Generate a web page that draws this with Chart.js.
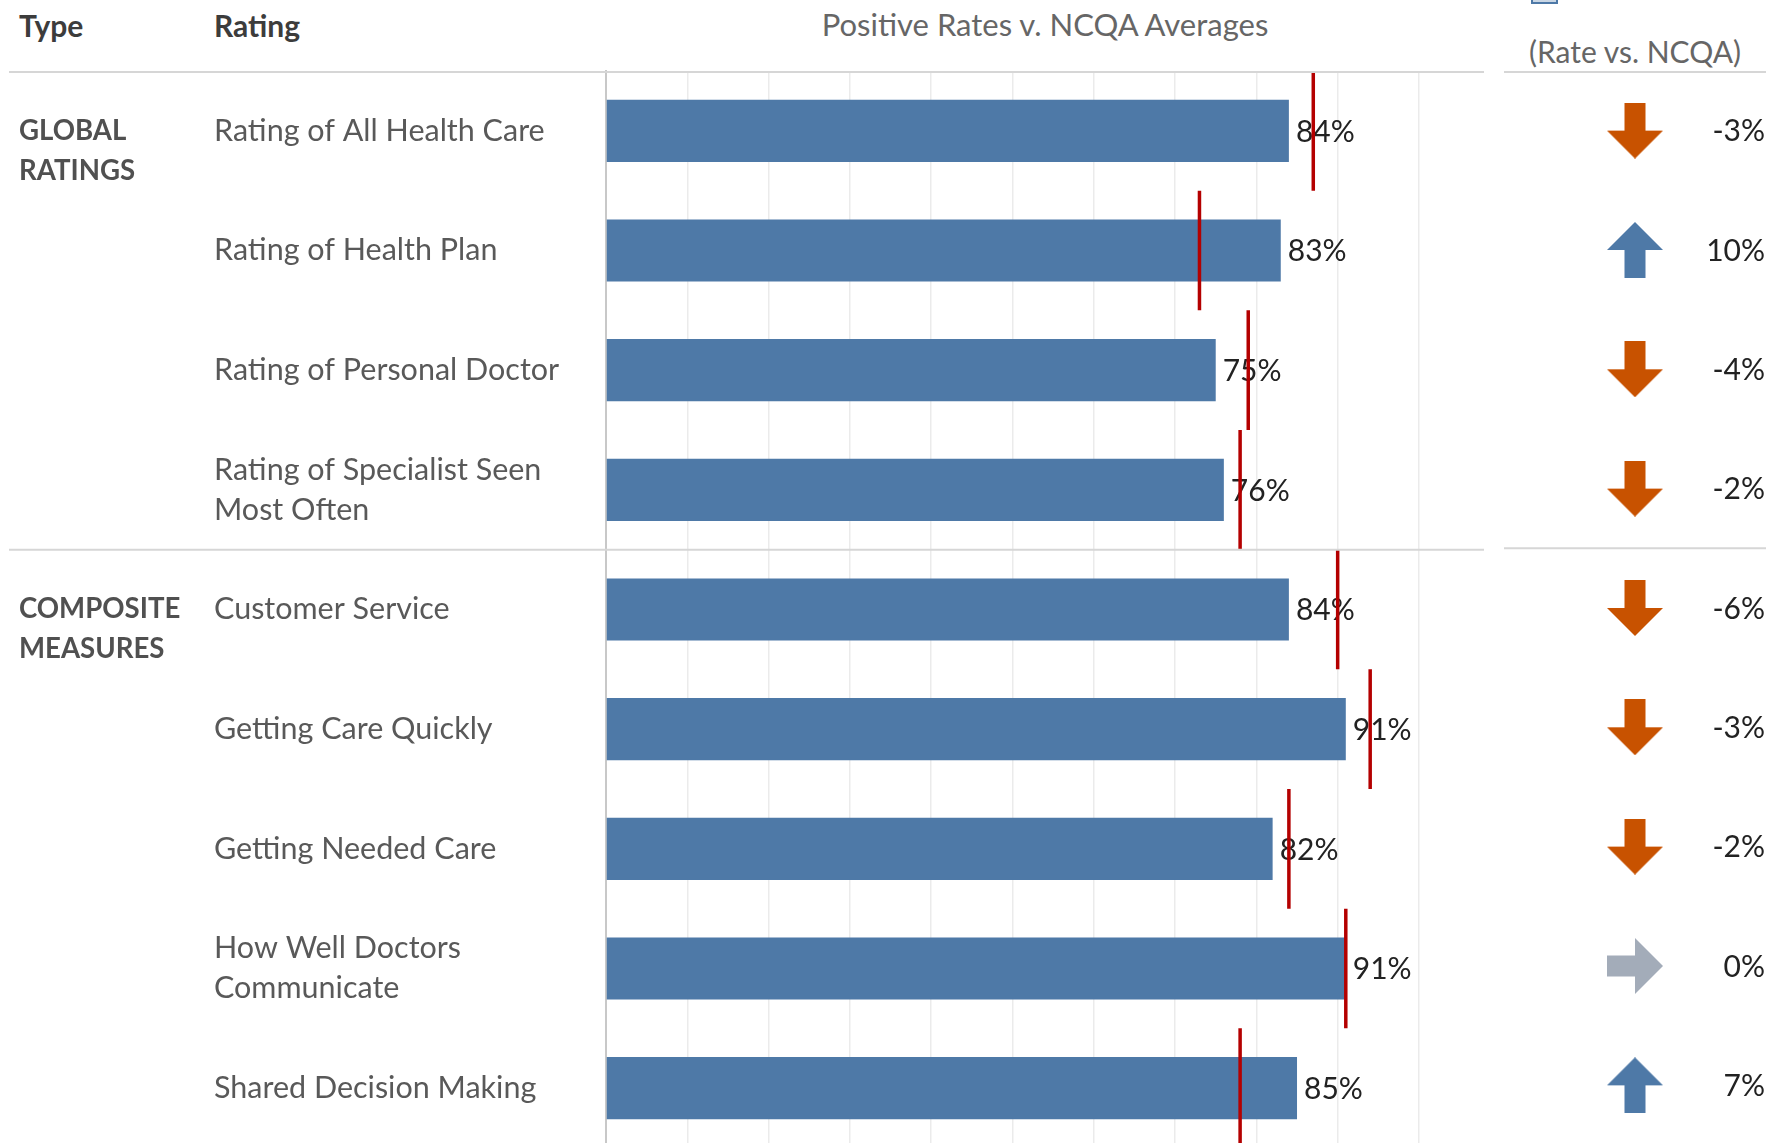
<!DOCTYPE html>
<html>
<head>
<meta charset="utf-8">
<title>Positive Rates v. NCQA Averages</title>
<script src="https://cdn.jsdelivr.net/npm/chart.js@4.4.1/dist/chart.umd.min.js"></script>
<style>
  html, body { margin: 0; padding: 0; background: #fff; overflow: hidden; }
  body { position: relative; width: 1783px; height: 1143px; font-family: Lato, "Open Sans", sans-serif; }
  .hdr { position: absolute; line-height: 40px; white-space: nowrap; }
  .bold { font-weight: bold; font-size: 30px; color: #3c3c3c; }
  #mainChart { position: absolute; left: 0; top: 0; }
  #deltaChart { position: absolute; left: 1499px; top: 0; }
  #swatch { position: absolute; left: 1531px; top: -14px; width: 23px; height: 14px; border: 2px solid #4e79a7; background: #c9d6e4; }
</style>
</head>
<body>
<div class="hdr bold" style="left:19px; top:5px;">Type</div>
<div class="hdr bold" style="left:214px; top:5px;">Rating</div>
<div class="hdr" style="left:606px; top:4px; width:878px; text-align:center; font-size:31px; color:#666;">Positive Rates v. NCQA Averages</div>
<div id="swatch"></div>
<div class="hdr" style="left:1499px; top:31px; width:272px; text-align:center; font-size:30px; color:#666;">(Rate vs. NCQA)</div>
<canvas id="mainChart" width="1490" height="1150"></canvas>
<canvas id="deltaChart" width="272" height="1150"></canvas>
<script>
// data
const ratings = [
  "Rating of All Health Care",
  "Rating of Health Plan",
  "Rating of Personal Doctor",
  ["Rating of Specialist Seen", "Most Often"],
  "Customer Service",
  "Getting Care Quickly",
  "Getting Needed Care",
  ["How Well Doctors", "Communicate"],
  "Shared Decision Making"
];
const ratingTypes = [
  "GLOBAL RATINGS", "GLOBAL RATINGS", "GLOBAL RATINGS", "GLOBAL RATINGS",
  "COMPOSITE MEASURES", "COMPOSITE MEASURES", "COMPOSITE MEASURES", "COMPOSITE MEASURES", "COMPOSITE MEASURES"
];
const positiveRates = [84, 83, 75, 76, 84, 91, 82, 91, 85];
const ncqaAverages = [87, 73, 79, 78, 90, 94, 84, 91, 78];
const rateVsNcqa = [-3, 10, -4, -2, -6, -3, -2, 0, 7];
const axisMax = 108;
const gridStep = 10;

const barBlue = "#4e79a7";
const downOrange = "#c85200";
const flatGray = "#a3acb9";
const avgRed = "#b40000";

Chart.defaults.font.family = "Lato, 'Open Sans', sans-serif";
Chart.defaults.animation = false;

function typeLabel(index) {
  if (index > 0 && ratingTypes[index] === ratingTypes[index - 1]) return "";
  return [""].concat(ratingTypes[index].split(" "));
}

// stop multi-line tick labels from adding extra layout padding
function fixWidth(w) {
  return scale => {
    scale.width = w;
    scale.paddingTop = 0;
    scale.paddingBottom = 0;
  };
}

// header rule + rule between the two groups
const separators = {
  id: "separators",
  afterDraw(chart, args, opts) {
    const { ctx, chartArea, scales } = chart;
    const y = scales.y;
    const left = opts.left != null ? opts.left : chartArea.left;
    const rows = [chartArea.top + 1];
    for (let i = 1; i < ratingTypes.length; i++) {
      if (ratingTypes[i] !== ratingTypes[i - 1]) {
        rows.push((y.getPixelForValue(i - 1) + y.getPixelForValue(i)) / 2);
      }
    }
    ctx.save();
    ctx.strokeStyle = "#d6d6d6";
    ctx.lineWidth = 2;
    rows.forEach(py => {
      ctx.beginPath();
      ctx.moveTo(left, py);
      ctx.lineTo(chartArea.right, py);
      ctx.stroke();
    });
    ctx.restore();
  }
};

// "84%" labels, drawn before the red average lines
const valueLabels = {
  id: "valueLabels",
  afterDatasetDraw(chart, args) {
    if (args.index !== 0) return;
    const ctx = chart.ctx;
    ctx.save();
    ctx.font = "30px Lato";
    ctx.fillStyle = "#222";
    ctx.textAlign = "left";
    ctx.textBaseline = "middle";
    args.meta.data.forEach((bar, i) => {
      ctx.fillText(positiveRates[i] + "%", bar.x + 7, bar.y + 1);
    });
    ctx.restore();
  }
};

new Chart(document.getElementById("mainChart"), {
  type: "bar",
  data: {
    labels: ratings,
    datasets: [
      {
        label: "Positive Rate",
        data: positiveRates,
        backgroundColor: barBlue,
        barPercentage: 0.52,
        categoryPercentage: 1,
        order: 2
      },
      {
        type: "line",
        label: "NCQA Average",
        data: ncqaAverages,
        indexAxis: "y",
        showLine: false,
        pointStyle: "line",
        rotation: 90,
        pointRadius: ctx => {
          const y = ctx.chart.scales.y;
          return (y.getPixelForValue(1) - y.getPixelForValue(0)) / 2;
        },
        borderColor: avgRed,
        pointBorderColor: avgRed,
        pointBorderWidth: 3.5,
        order: 1
      }
    ]
  },
  options: {
    responsive: false,
    indexAxis: "y",
    layout: {
      padding: { left: 19, top: 71, right: 6, bottom: 2 }
    },
    plugins: {
      legend: { display: false },
      tooltip: { enabled: false },
      separators: { left: 9 }
    },
    scales: {
      x: {
        type: "linear",
        min: 0,
        max: axisMax,
        ticks: { display: false, stepSize: gridStep, includeBounds: false },
        grid: {
          drawTicks: false,
          lineWidth: 1.5,
          color: ctx => (ctx.tick && ctx.tick.value > 0 && ctx.tick.value <= 100) ? "#ebebeb" : "rgba(0,0,0,0)"
        },
        border: { display: false }
      },
      y: {
        type: "category",
        offset: true,
        weight: 0,
        afterFit: fixWidth(392),
        ticks: {
          autoSkip: false,
          crossAlign: "far",
          color: "#595959",
          font: { size: 30.5, lineHeight: "40px" }
        },
        grid: { display: false },
        border: { display: true, dash: [2, 6], color: "#c8c8c8", width: 2 }
      },
      yType: {
        type: "category",
        position: "left",
        offset: true,
        weight: 1,
        afterFit: fixWidth(195),
        ticks: {
          autoSkip: false,
          crossAlign: "far",
          color: "#505050",
          font: { size: 27.6, weight: "bold", lineHeight: "40px" },
          callback: (value, index) => typeLabel(index)
        },
        grid: { display: false },
        border: { display: false }
      }
    }
  },
  plugins: [separators, valueLabels]
});

// arrow glyphs for the right-hand column
function makeArrow(color) {
  const c = document.createElement("canvas");
  c.width = 56;
  c.height = 56;
  const g = c.getContext("2d");
  g.fillStyle = color;
  g.beginPath();
  g.moveTo(28, 0);
  g.lineTo(56, 28);
  g.lineTo(38.5, 28);
  g.lineTo(38.5, 56);
  g.lineTo(17.5, 56);
  g.lineTo(17.5, 28);
  g.lineTo(0, 28);
  g.closePath();
  g.fill();
  return c;
}
const arrowUp = makeArrow(barBlue);
const arrowDown = makeArrow(downOrange);
const arrowFlat = makeArrow(flatGray);

const deltaLabels = {
  id: "deltaLabels",
  afterDatasetsDraw(chart) {
    const { ctx, chartArea } = chart;
    const meta = chart.getDatasetMeta(0);
    ctx.save();
    ctx.font = "30px Lato";
    ctx.fillStyle = "#222";
    ctx.textAlign = "right";
    ctx.textBaseline = "middle";
    meta.data.forEach((pt, i) => {
      ctx.fillText(rateVsNcqa[i] + "%", chartArea.right - 1, pt.y + 1);
    });
    ctx.restore();
  }
};

new Chart(document.getElementById("deltaChart"), {
  type: "line",
  data: {
    datasets: [
      {
        label: "Rate vs. NCQA",
        data: rateVsNcqa.map((d, i) => ({ x: 0, y: i })),
        showLine: false,
        pointStyle: ctx => {
          const d = rateVsNcqa[ctx.dataIndex];
          return d > 0 ? arrowUp : d < 0 ? arrowDown : arrowFlat;
        },
        rotation: ctx => {
          const d = rateVsNcqa[ctx.dataIndex];
          return d > 0 ? 0 : d < 0 ? 180 : 90;
        }
      }
    ]
  },
  options: {
    responsive: false,
    layout: {
      padding: { left: 0, top: 71, right: 0, bottom: 2 }
    },
    plugins: {
      legend: { display: false },
      tooltip: { enabled: false },
      separators: {}
    },
    scales: {
      x: { type: "category", labels: ["Rate vs. NCQA"], offset: true, display: false },
      y: { type: "category", labels: ratings, offset: true, display: false }
    }
  },
  plugins: [separators, deltaLabels]
});
</script>
</body>
</html>
